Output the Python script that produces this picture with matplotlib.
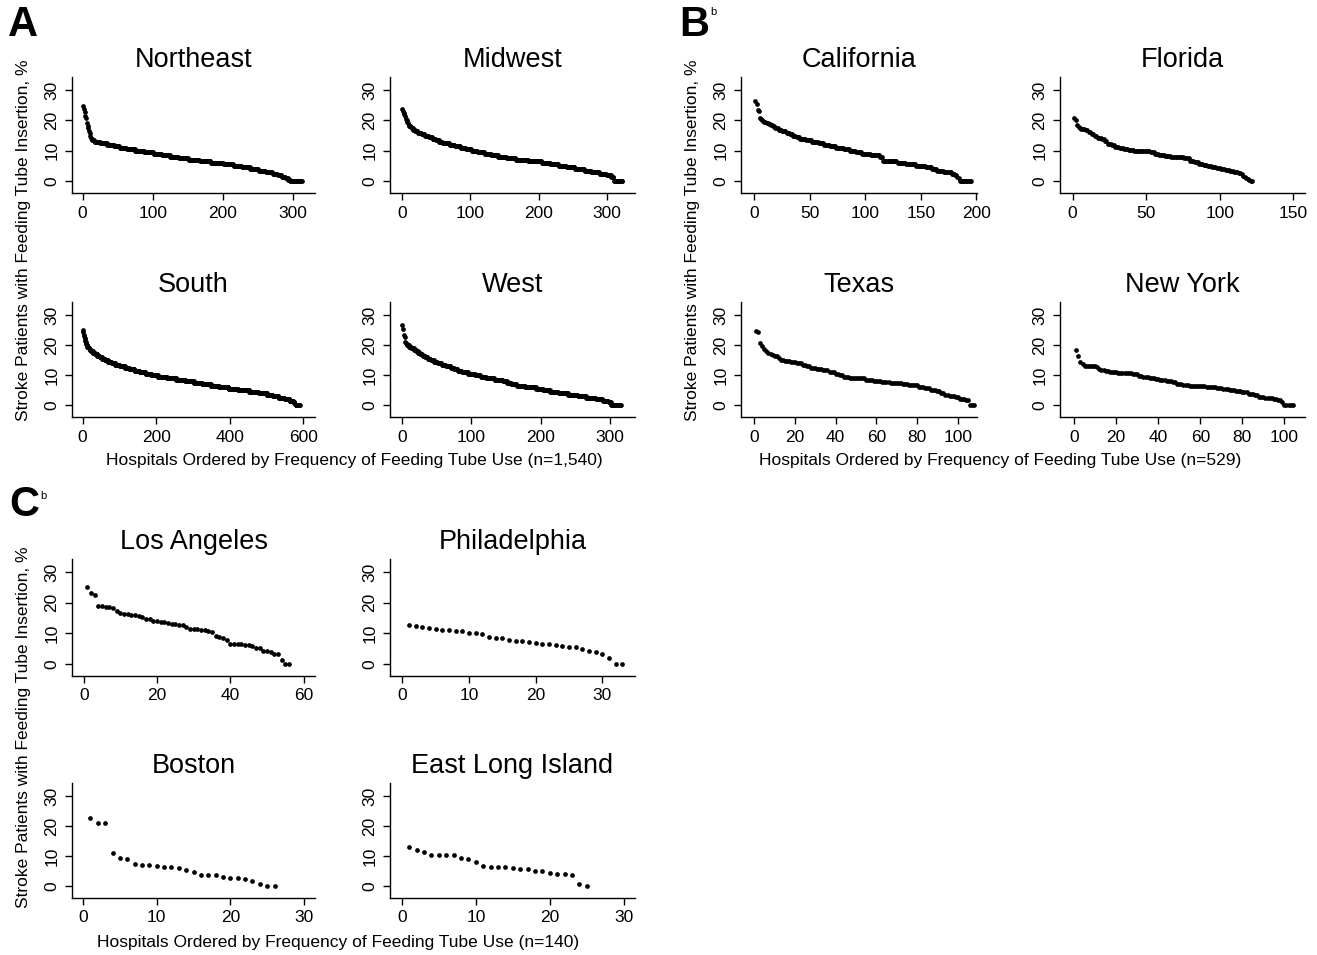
import numpy as np
import matplotlib
matplotlib.use("Agg")
from matplotlib import pyplot as plt

plt.rcParams['font.family'] = ['Liberation Sans', 'DejaVu Sans']

W, H = 1317, 955

# rates (%) by hospital, written as (rate, number of hospitals at that rate)
northeast = [(24.7, 1), (23.8, 1), (22.8, 1), (21.5, 1), (20.8, 1), (19.0, 1), (18.2, 1),
             (17.4, 1), (16.6, 1), (15.8, 1), (15.0, 1), (14.3, 1), (13.8, 1), (13.5, 3),
             (13.0, 8), (12.5, 10), (12.0, 10), (11.5, 8), (11.0, 10), (10.5, 12), (10.0, 13),
             (9.5, 13), (9.0, 12), (8.5, 12), (8.0, 12), (7.5, 14), (7.0, 16), (6.5, 16),
             (6.0, 18), (5.5, 14), (5.0, 12), (4.5, 12), (4.0, 12), (3.5, 10), (3.0, 10),
             (2.5, 7), (2.0, 6), (1.5, 5), (1.0, 4), (0.5, 3), (0.0, 17)]
midwest = [(23.8, 1), (23.2, 1), (22.6, 1), (22.0, 1), (21.3, 1), (20.6, 1), (20.0, 1),
           (19.4, 1), (19.0, 1), (18.6, 1), (18.2, 2), (17.8, 2), (17.4, 2), (17.0, 3),
           (16.5, 4), (16.0, 5), (15.5, 5), (15.0, 6), (14.5, 5), (14.0, 5), (13.5, 5),
           (13.0, 5), (12.5, 10), (12.0, 8), (11.5, 8), (11.0, 8), (10.5, 8), (10.0, 9),
           (9.5, 10), (9.0, 10), (8.5, 10), (8.0, 12), (7.5, 14), (7.0, 18), (6.5, 20),
           (6.0, 12), (5.5, 12), (5.0, 12), (4.5, 12), (4.0, 14), (3.5, 10), (3.0, 12),
           (2.5, 10), (2.0, 7), (1.5, 4), (0.0, 13)]
south = [(24.9, 1), (24.2, 1), (23.5, 1), (23.0, 1), (22.5, 1), (22.0, 1), (21.5, 1),
         (21.0, 1), (20.6, 1), (20.3, 1), (20.0, 2), (19.5, 3), (19.0, 3), (18.5, 4),
         (18.0, 5), (17.5, 6), (17.0, 6), (16.5, 6), (16.0, 7), (15.5, 8), (15.0, 8),
         (14.5, 10), (14.0, 10), (13.5, 12), (13.0, 14), (12.5, 12), (12.0, 14), (11.5, 14),
         (11.0, 16), (10.5, 16), (10.0, 18), (9.5, 24), (9.0, 26), (8.5, 24), (8.0, 24),
         (7.5, 22), (7.0, 24), (6.5, 22), (6.0, 26), (5.5, 26), (5.0, 30), (4.5, 26),
         (4.0, 22), (3.5, 16), (3.0, 16), (2.5, 16), (2.0, 14), (1.5, 10), (1.0, 4),
         (0.5, 2), (0.0, 12)]
west = [(26.6, 1), (25.4, 1), (23.2, 1), (22.8, 1), (21.0, 1), (20.6, 1), (20.3, 1),
        (20.0, 3), (19.5, 3), (19.0, 4), (18.5, 3), (18.0, 3), (17.5, 3), (17.0, 3),
        (16.5, 4), (16.0, 4), (15.5, 4), (15.0, 5), (14.5, 5), (14.0, 6), (13.5, 6),
        (13.0, 7), (12.5, 5), (12.0, 5), (11.5, 6), (11.0, 9), (10.5, 10), (10.0, 8),
        (9.5, 8), (9.0, 12), (8.5, 12), (8.0, 6), (7.5, 6), (7.0, 8), (6.5, 12), (6.0, 16),
        (5.5, 10), (5.0, 10), (4.5, 12), (4.0, 14), (3.5, 14), (3.0, 12), (2.5, 14),
        (2.0, 10), (1.5, 8), (1.0, 4), (0.0, 15)]
california = [(26.5, 1), (25.3, 1), (23.4, 1), (23.0, 1), (20.8, 1), (20.5, 1), (20.2, 1),
              (19.9, 1), (19.6, 2), (19.2, 2), (18.8, 2), (18.4, 2), (18.0, 2), (17.5, 3),
              (17.0, 3), (16.5, 4), (16.0, 3), (15.5, 3), (15.0, 3), (14.5, 3), (14.0, 6),
              (13.5, 5), (13.0, 6), (12.5, 5), (12.0, 5), (11.5, 6), (11.0, 7), (10.5, 5),
              (10.0, 6), (9.5, 5), (9.0, 8), (8.5, 8), (8.0, 3), (6.8, 6), (6.5, 7), (6.0, 8),
              (5.5, 9), (5.0, 9), (4.5, 5), (4.0, 5), (3.5, 6), (3.0, 7), (2.5, 3), (2.0, 2),
              (1.5, 1), (1.0, 1), (0.0, 11)]
florida = [(20.7, 1), (20.2, 1), (18.5, 1), (17.8, 1), (17.5, 1), (17.2, 3), (16.8, 2),
           (16.2, 2), (15.5, 2), (14.8, 2), (14.3, 3), (13.8, 2), (13.3, 2), (12.3, 3),
           (11.8, 2), (11.3, 3), (11.0, 3), (10.5, 3), (10.2, 4), (10.0, 7), (9.8, 4),
           (9.5, 3), (9.0, 3), (8.7, 4), (8.4, 4), (8.1, 4), (7.8, 5), (7.5, 4), (6.8, 3),
           (6.2, 3), (5.8, 3), (5.4, 3), (5.1, 3), (4.8, 3), (4.4, 3), (4.0, 3), (3.7, 3),
           (3.3, 3), (3.0, 3), (2.6, 2), (2.2, 1), (1.8, 1), (1.4, 1), (1.0, 1), (0.6, 1),
           (0.3, 1), (0.0, 2)]
texas = [(24.6, 1), (24.2, 1), (20.6, 1), (19.8, 1), (18.6, 1), (18.0, 1), (17.5, 1),
         (17.1, 1), (16.8, 1), (16.5, 1), (16.2, 1), (15.6, 1), (15.1, 2), (14.8, 3),
         (14.5, 3), (14.1, 3), (13.5, 2), (13.0, 2), (12.4, 3), (12.0, 3), (11.6, 3),
         (11.2, 3), (10.5, 2), (10.0, 2), (9.4, 3), (9.1, 4), (8.9, 4), (8.5, 4), (8.2, 4),
         (7.8, 4), (7.5, 6), (7.0, 3), (6.6, 5), (6.1, 3), (5.6, 3), (5.2, 3), (4.7, 2),
         (4.0, 2), (3.4, 2), (3.0, 3), (2.6, 2), (2.2, 3), (1.8, 2), (0.0, 3)]
new_york = [(18.5, 1), (16.5, 1), (14.3, 1), (13.6, 1), (13.2, 1), (12.9, 5), (12.7, 1),
            (12.2, 1), (11.8, 2), (11.3, 2), (11.0, 4), (10.8, 4), (10.6, 3), (10.3, 3),
            (9.8, 2), (9.5, 3), (9.2, 3), (8.7, 2), (8.4, 3), (8.0, 3), (7.6, 2), (7.2, 3),
            (6.8, 3), (6.5, 4), (6.3, 4), (6.1, 5), (5.8, 3), (5.4, 3), (5.0, 3), (4.6, 3),
            (4.3, 3), (3.9, 3), (3.4, 2), (2.8, 3), (2.3, 4), (2.0, 2), (1.6, 2), (1.2, 1),
            (0.0, 5)]

los_angeles = [25.3, 23.3, 22.7, 19.0, 18.8, 18.7, 18.5, 18.2, 17.4, 16.7,
               16.5, 16.3, 16.1, 16.0, 15.8, 15.3, 14.7, 14.6, 14.1, 14.0,
               13.8, 13.6, 13.4, 13.2, 13.0, 12.9, 12.7, 12.1, 11.6, 11.5,
               11.3, 11.1, 11.0, 10.9, 10.4, 9.0, 8.9, 8.5, 8.0, 6.7,
               6.6, 6.5, 6.4, 6.3, 6.2, 6.0, 5.3, 5.2, 4.2, 4.1,
               3.8, 3.3, 3.2, 1.4, 0.0, 0.0]
philadelphia = [12.6, 12.4, 12.2, 11.8, 11.4, 11.2, 11.1, 10.8, 10.7, 10.3,
                10.1, 9.8, 8.7, 8.5, 8.4, 7.9, 7.6, 7.4, 7.1, 6.8,
                6.5, 6.4, 6.3, 5.8, 5.7, 5.6, 4.8, 4.4, 4.0, 3.2,
                2.1, 0.0, 0.0]
boston = [22.8, 21.0, 21.0, 10.9, 9.3, 9.2, 7.5, 7.0, 7.0, 6.8,
          6.3, 6.3, 6.0, 5.5, 4.9, 3.7, 3.7, 3.6, 3.2, 2.8,
          2.8, 2.4, 1.9, 0.7, 0.0, 0.0]
east_long_island = [12.9, 11.9, 11.4, 10.5, 10.3, 10.3, 10.3, 9.4, 9.0, 7.9,
                    6.7, 6.3, 6.3, 6.3, 6.0, 5.8, 5.6, 5.2, 5.0, 4.4,
                    4.0, 4.0, 3.8, 0.9, 0.0]


def expand(runs):
    rates = [r for r, n in runs]
    counts = [n for r, n in runs]
    return np.repeat(rates, counts)


fig = plt.figure(figsize=(W / 100, H / 100), dpi=100)


def add_ax(left, right, top, bottom):
    return fig.add_axes([left / W, 1 - bottom / H, (right - left) / W, (bottom - top) / H])


def panel(box, title, y, xlim, xticks):
    ax = add_ax(*box)
    x = np.arange(1, len(y) + 1)
    ax.plot(x, y, 'o', color='black', ms=3.4, mew=0)
    ax.set_xlim(xlim)
    ax.set_ylim(-3.9, 34.3)
    ax.set_xticks(xticks)
    ax.set_yticks([0, 10, 20, 30])
    for s in ['top', 'right']:
        ax.spines[s].set_visible(False)
    for s in ['left', 'bottom']:
        ax.spines[s].set_linewidth(1.0)
    ax.tick_params(direction='out', length=5, width=1.0, labelsize=12.5, pad=4)
    for lab in ax.get_yticklabels():
        lab.set_rotation(90)
        lab.set_va('center')
    ax.set_title(title, fontsize=19.5, pad=7)
    return ax


# pixel boxes: columns (left, right), rows (top, bottom)
rowA1 = (77, 193)
rowA2 = (302, 417)
rowC1 = (559, 676)
rowC2 = (783, 898)
colA1 = (72, 315)
colA2 = (390, 635)
colB1 = (741, 977)
colB2 = (1060, 1305)

panel(colA1 + rowA1, 'Northeast', expand(northeast), (-15.2, 331), [0, 100, 200, 300])
panel(colA2 + rowA1, 'Midwest', expand(midwest), (-17.1, 340.6), [0, 100, 200, 300])
panel(colA1 + rowA2, 'South', expand(south), (-29, 631.8), [0, 200, 400, 600])
panel(colA2 + rowA2, 'West', expand(west), (-16.9, 336), [0, 100, 200, 300])

panel(colB1 + rowA1, 'California', expand(california), (-12, 200.6), [0, 50, 100, 150, 200])
panel(colB2 + rowA1, 'Florida', expand(florida), (-8.6, 158), [0, 50, 100, 150])
panel(colB1 + rowA2, 'Texas', expand(texas), (-6.5, 109.5), [0, 20, 40, 60, 80, 100])
panel(colB2 + rowA2, 'New York', expand(new_york), (-6.7, 109.8), [0, 20, 40, 60, 80, 100])

panel(colA1 + rowC1, 'Los Angeles', np.array(los_angeles), (-3.2, 63.1), [0, 20, 40, 60])
panel(colA2 + rowC1, 'Philadelphia', np.array(philadelphia), (-1.85, 34.9), [0, 10, 20, 30])
panel(colA1 + rowC2, 'Boston', np.array(boston), (-1.5, 31.5), [0, 10, 20, 30])
panel(colA2 + rowC2, 'East Long Island', np.array(east_long_island), (-1.6, 31.5), [0, 10, 20, 30])


def ftext(x, y, s, **kw):
    fig.text(x / W, 1 - y / H, s, **kw)


ylab = 'Stroke Patients with Feeding Tube Insertion, %'
ftext(24, 240, ylab, rotation=90, ha='center', va='center', fontsize=12.5)
ftext(693, 240, ylab, rotation=90, ha='center', va='center', fontsize=12.5)
ftext(24, 727, ylab, rotation=90, ha='center', va='center', fontsize=12.5)

ftext(354, 461, 'Hospitals Ordered by Frequency of Feeding Tube Use (n=1,540)',
      ha='center', va='center', fontsize=12.5)
ftext(1000, 461, 'Hospitals Ordered by Frequency of Feeding Tube Use (n=529)',
      ha='center', va='center', fontsize=12.5)
ftext(338, 942, 'Hospitals Ordered by Frequency of Feeding Tube Use (n=140)',
      ha='center', va='center', fontsize=12.5)

ftext(8, 25, 'A', ha='left', va='center', fontsize=30, fontweight='bold')
ftext(679, 25, 'B', ha='left', va='center', fontsize=30, fontweight='bold')
ftext(710, 12, 'b', ha='left', va='center', fontsize=8)
ftext(9, 505, 'C', ha='left', va='center', fontsize=30, fontweight='bold')
ftext(40, 496, 'b', ha='left', va='center', fontsize=8)

fig.savefig('out.png', dpi=100, facecolor='white')
